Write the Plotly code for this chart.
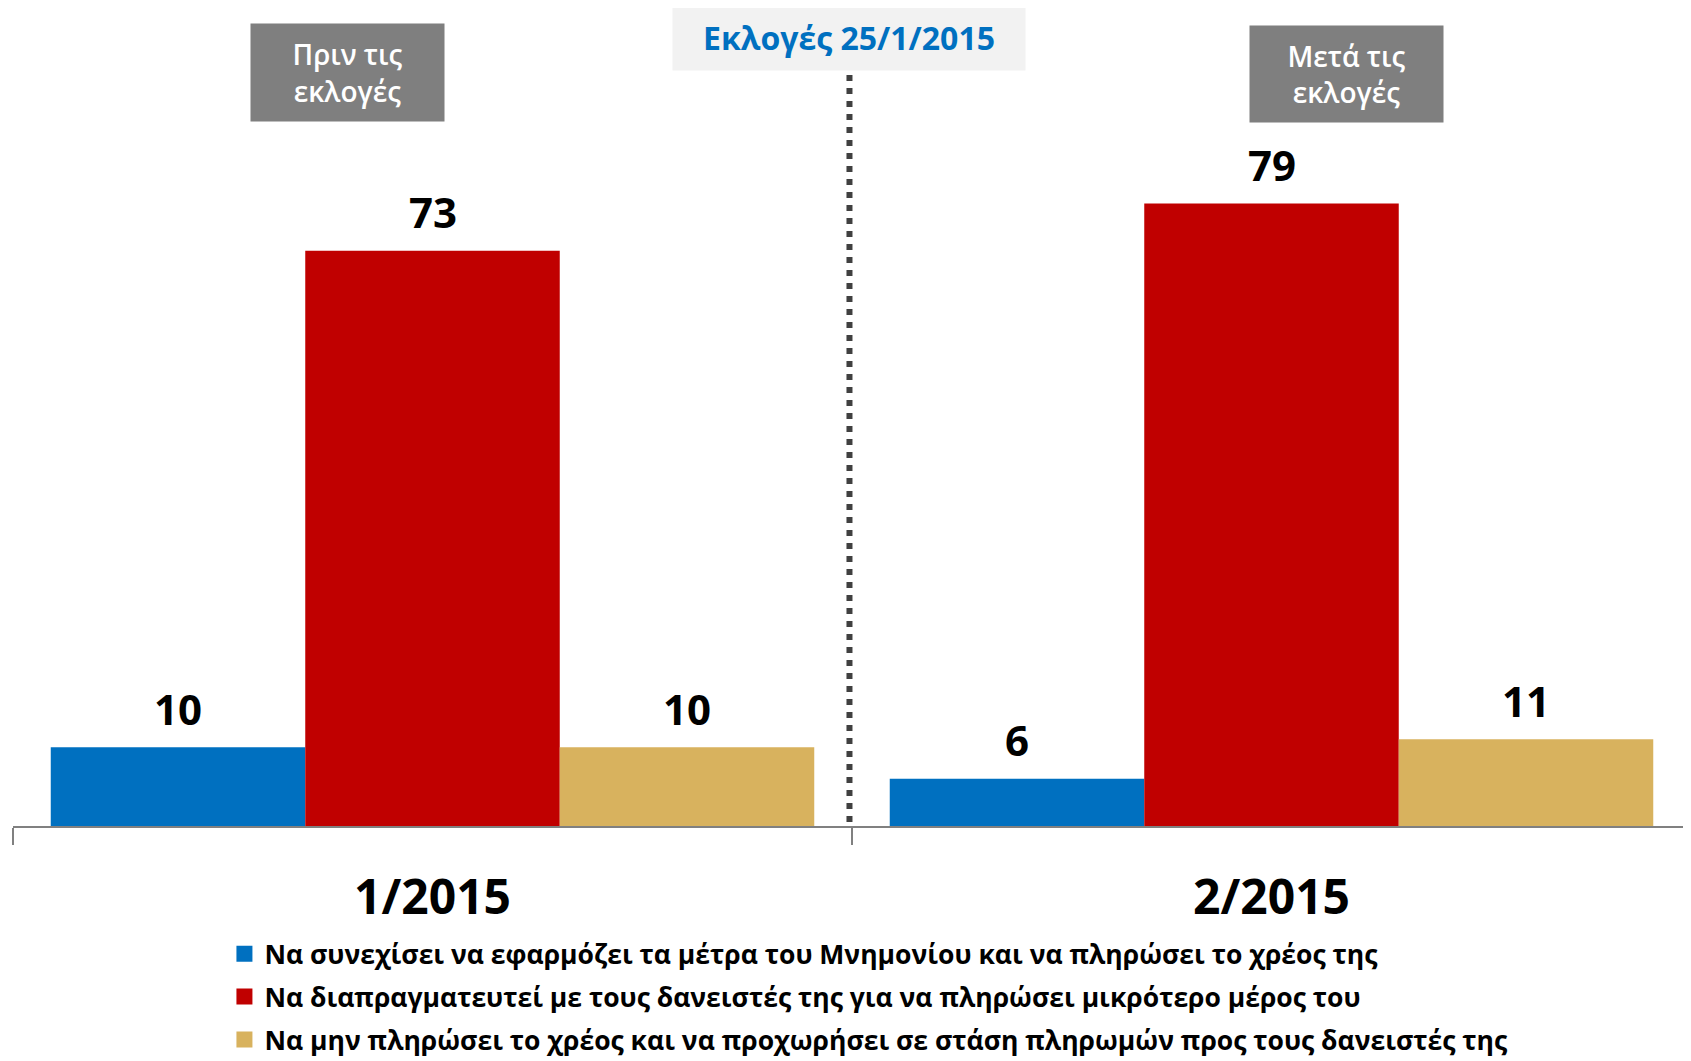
import plotly.graph_objects as go

categories = ["1/2015", "2/2015"]
series_names = [
    "Να συνεχίσει να εφαρμόζει τα μέτρα του Μνημονίου και να πληρώσει το χρέος της",
    "Να διαπραγματευτεί με τους δανειστές της για να πληρώσει μικρότερο μέρος του",
    "Να μην πληρώσει το χρέος και να προχωρήσει σε στάση πληρωμών προς τους δανειστές της",
]
values_continue = [10, 6]
values_negotiate = [73, 79]
values_default = [10, 11]
colors = ["#0070C0", "#C00000", "#D8B25E"]

FONT = "Open Sans"
BARGAP = 0.09

# page body has an 8px margin; the figure is sized to end at the window edge
W, H = 1683, 1053
ML, MR, MT, MB = 5, 0, 30, 235

fig = go.Figure()
all_values = [values_continue, values_negotiate, values_default]
for i, (name, vals) in enumerate(zip(series_names, all_values)):
    fig.add_trace(go.Bar(
        x=categories, y=vals, name=name,
        marker=dict(color=colors[i], line=dict(width=0)),
        legendgroup=f"g{i}", showlegend=False,
        hoverinfo="x+y",
    ))
# legend entries with larger square swatches
for i, name in enumerate(series_names):
    fig.add_trace(go.Scatter(
        x=[None], y=[None], name=name, mode="markers",
        marker=dict(symbol="square", size=17, color=colors[i]),
        legendgroup=f"g{i}", showlegend=True, hoverinfo="skip",
    ))

# data labels above bars
n = len(all_values)
bw = (1 - BARGAP) / n
for i, vals in enumerate(all_values):
    off = (i - (n - 1) / 2) * bw
    for ci, v in enumerate(vals):
        fig.add_annotation(
            x=ci + off, y=v, xref="x", yref="y",
            text=f"<b>{v}</b>", showarrow=False,
            yanchor="middle", yshift=39,
            font=dict(family=FONT, size=42, color="#000000"),
        )

# header boxes
fig.add_annotation(
    x=0.1996, y=0.956, xref="paper", yref="paper",
    xanchor="center", yanchor="middle",
    text="Πριν τις<br>εκλογές", showarrow=False,
    width=193, height=97, bgcolor="#7F7F7F", borderpad=0,
    font=dict(family=FONT, size=28, color="#FFFFFF", weight=600),
)
fig.add_annotation(
    x=0.7947, y=0.9543, xref="paper", yref="paper",
    xanchor="center", yanchor="middle",
    text="Μετά τις<br>εκλογές", showarrow=False,
    width=193, height=96, bgcolor="#7F7F7F", borderpad=0,
    font=dict(family=FONT, size=28, color="#FFFFFF", weight=600),
)
fig.add_annotation(
    x=0.4982, y=1.0006, xref="paper", yref="paper",
    xanchor="center", yanchor="middle",
    text="<b>Εκλογές 25/1/2015</b>", showarrow=False,
    width=352, height=65, bgcolor="#F2F2F2", borderpad=0,
    font=dict(family=FONT, size=32, color="#0070C0"),
)

# dotted election divider
fig.add_shape(
    type="line", xref="x", yref="paper",
    x0=0.497, x1=0.497, y0=0.953, y1=0.0,
    line=dict(color="#404040", width=6, dash="6px,7px"),
)

fig.update_layout(
    width=W, height=H,
    margin=dict(l=ML, r=MR, t=MT, b=MB, autoexpand=False),
    paper_bgcolor="#FFFFFF", plot_bgcolor="#FFFFFF",
    barmode="group", bargap=BARGAP, bargroupgap=0,
    font=dict(family=FONT, color="#000000"),
    showlegend=True,
    legend=dict(
        x=0.1286, y=0.1245, xref="container", yref="container",
        xanchor="left", yanchor="top",
        orientation="v", traceorder="grouped",
        tracegroupgap=5.5, itemsizing="trace",
        font=dict(family=FONT, size=26.5, color="#000000", weight="bold"),
        bgcolor="rgba(0,0,0,0)",
    ),
    xaxis=dict(
        type="category",
        showline=True, linecolor="#808080", linewidth=2,
        ticks="outside", tickson="boundaries", ticklen=17,
        tickcolor="#808080", tickwidth=1.5,
        tickfont=dict(family=FONT, size=48, color="#000000", weight="bold"),
        ticklabelstandoff=28,
        showgrid=False, zeroline=False,
    ),
    yaxis=dict(
        range=[0, 100], visible=False, showgrid=False, zeroline=False,
    ),
)

fig.write_html("out.html")
